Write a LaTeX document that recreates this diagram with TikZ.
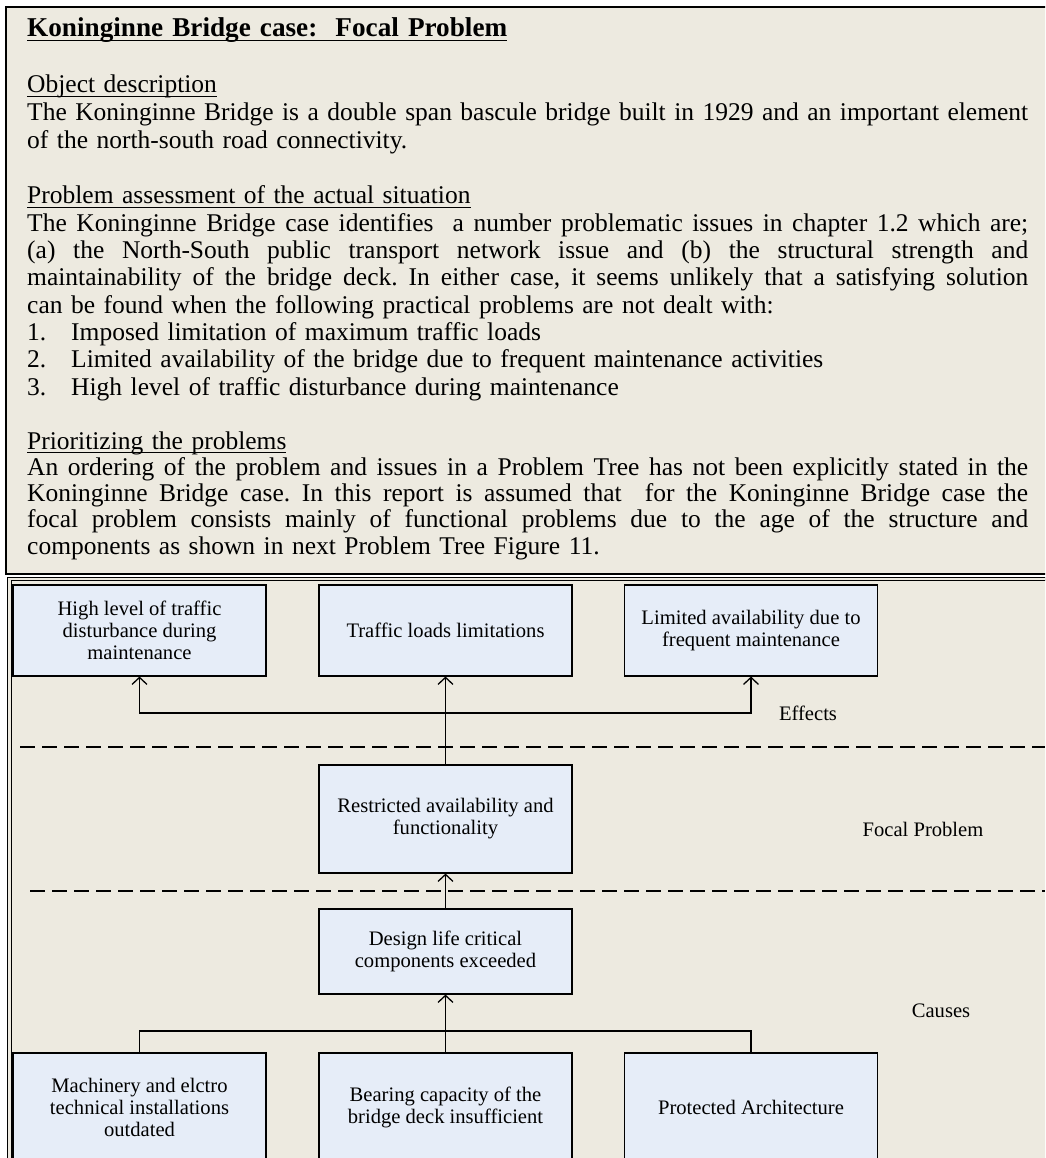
\documentclass[tikz,border=0pt]{standalone}
\usepackage{fontspec}
\setmainfont{Liberation Serif}
\usetikzlibrary{arrows.meta}

\definecolor{paper}{RGB}{237,234,224}
\definecolor{cellblue}{RGB}{230,237,248}

% underlined heading with the rule crossing the descenders
\newcommand\headline[1]{\leavevmode\setbox0\hbox{#1}\rlap{\rule[-4pt]{\wd0}{1.4pt}}\box0}
% a justified line across the full text width (font spaces, so they can stretch)
\newcommand\fullline[1]{{\frenchspacing\spaceskip=0pt\xspaceskip=0pt\makebox[1001pt][s]{#1}}}
% numbered list entry
\newcommand\entry[2]{\makebox[44pt][l]{#1}#2}

\begin{document}
\begin{tikzpicture}[x=1pt,y=-1pt,
  cell/.style={draw=black, line width=1.1pt, fill=cellblue, minimum width=253pt,
    align=center, inner sep=0pt, font=\fontsize{20.6}{22}\selectfont},
  tag/.style={font=\fontsize{20.6}{22}\selectfont, inner sep=0pt},
  para/.style={anchor=base west, inner sep=0pt, text width=1001pt, align=left},
  link/.style={line width=1.3pt},
  rise/.style={link, -{Straight Barb[length=7pt,width=15pt,line width=1.3pt]}},
  divider/.style={line width=1.2pt, dash pattern=on 15pt off 7pt},
]
\useasboundingbox (0,0) rectangle (1045,1158);
\fill[white] (0,0) rectangle (1045,1158);
\clip (0,0) rectangle (1045,1158);

% text panel
\draw[line width=2pt, fill=paper] (5.5,7.5) rectangle (1060,574);

\node[para, font=\fontsize{27.2}{28}\selectfont\bfseries] (title) at (27,37)
  {\headline{Koninginne Bridge case:\ \ Focal Problem}};

\node[para, font=\fontsize{25.5}{27.6}\selectfont] (object) at (27,93) {%
\headline{Object description}\\
\fullline{The Koninginne Bridge is a double span bascule bridge built in 1929 and an important element}\\
of the north-south road connectivity.};

\node[para, font=\fontsize{25.5}{27.3}\selectfont] (assess) at (27,204) {%
\headline{Problem assessment of the actual situation}\\
\fullline{The Koninginne Bridge case identifies\ \ a number problematic issues in chapter 1.2 which are;}\\
\fullline{(a) the North-South public transport network issue and (b) the structural strength and}\\
\fullline{maintainability of the bridge deck. In either case, it seems unlikely that a satisfying solution}\\
can be found when the following practical problems are not dealt with:\\
\entry{1.}{Imposed limitation of maximum traffic loads}\\
\entry{2.}{Limited availability of the bridge due to frequent maintenance activities}\\
\entry{3.}{High level of traffic disturbance during maintenance}};

\node[para, font=\fontsize{25.5}{26.3}\selectfont] (prior) at (27,449) {%
\headline{Prioritizing the problems}\\
\fullline{An ordering of the problem and issues in a Problem Tree has not been explicitly stated in the}\\
\fullline{Koninginne Bridge case. In this report is assumed that\ \ for the Koninginne Bridge case the}\\
\fullline{focal problem consists mainly of functional problems due to the age of the structure and}\\
components as shown in next Problem Tree Figure 11.};

% problem tree panel
\draw[fill=paper, draw=black, line width=0.9pt, double=paper, double distance=2.4pt]
  (9.5,579) rectangle (1070,1180);

% effects
\node[cell, minimum height=91pt] (e1) at (139.5,630.5) {High level of traffic\\disturbance during\\maintenance};
\node[cell, minimum height=91pt] (e2) at (445.5,630.5) {Traffic loads limitations};
\node[cell, minimum height=91pt] (e3) at (751,630.5) {Limited availability due to\\frequent maintenance};

% focal problem
\node[cell, minimum height=108pt] (fp) at (445.5,819) {Restricted availability and\\functionality};

% causes
\node[cell, minimum height=85pt] (dl) at (445.5,951.5) {Design life critical\\components exceeded};
\node[cell, minimum height=108pt] (c1) at (139.5,1107) {Machinery and elctro\\technical installations\\outdated};
\node[cell, minimum height=108pt] (c2) at (445.5,1107) {Bearing capacity of the\\bridge deck insufficient};
\node[cell, minimum height=108pt] (c3) at (751,1107) {Protected Architecture};

% level separators
\coordinate (d1a) at (20,747);
\coordinate (d1b) at (1045,747);
\coordinate (d2a) at (30,891);
\coordinate (d2b) at (1045,891);
\draw[divider] (d1a) -- (d1b);
\draw[divider] (d2a) -- (d2b);

% connectors
\coordinate (ej) at (445.5,713);
\coordinate (cj) at (445.5,1031);
\draw[rise] (fp.north) -- (e2.south);
\draw[rise] (ej) -| (e1.south);
\draw[rise] (ej) -| (e3.south);
\draw[rise] (dl.north) -- (fp.south);
\draw[rise] (c2.north) -- (dl.south);
\draw[link] (c1.north) |- (cj) -| (c3.north);

% level labels
\node[tag] (effects) at (808,713) {Effects};
\node[tag] (focal) at (923,829) {Focal Problem};
\node[tag] (causes) at (941,1011) {Causes};
\end{tikzpicture}
\end{document}
